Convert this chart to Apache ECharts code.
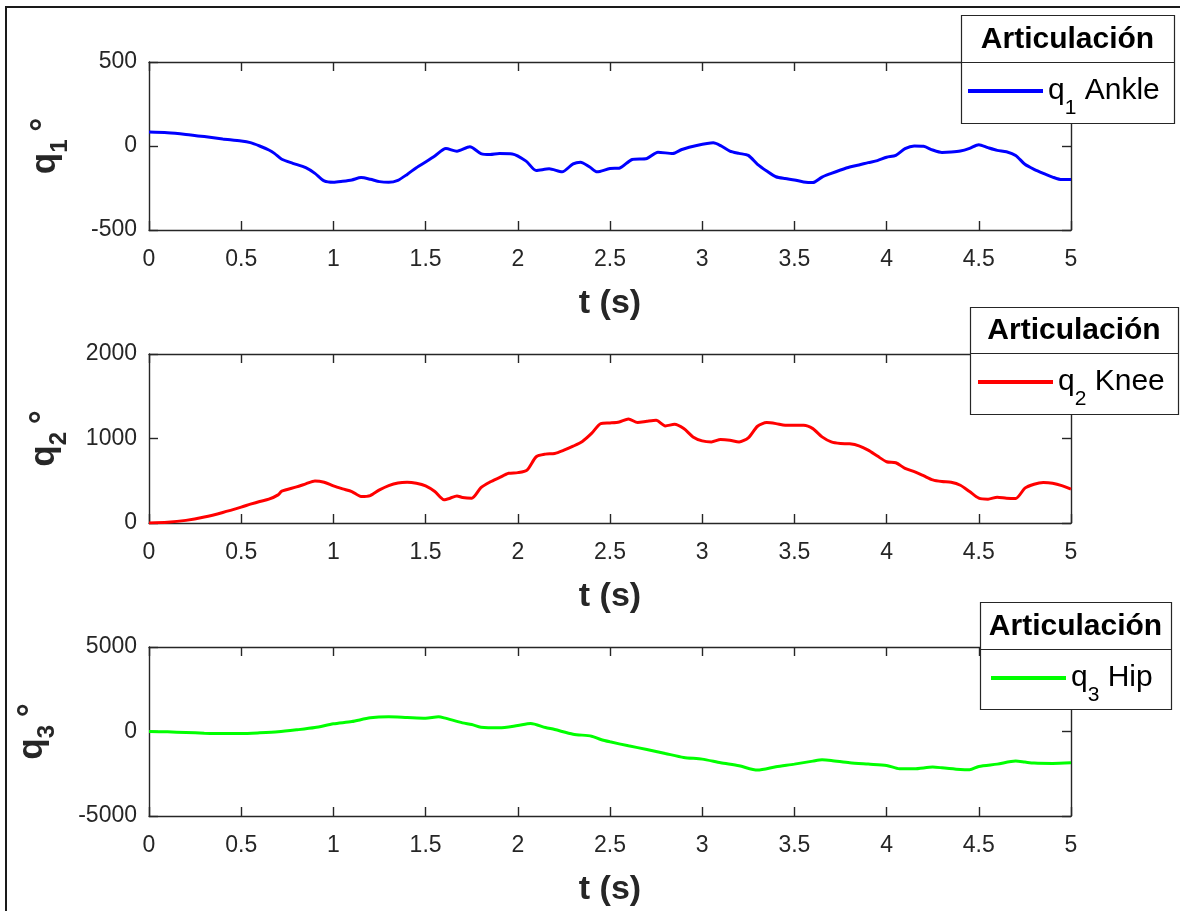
<!DOCTYPE html>
<html>
<head>
<meta charset="utf-8">
<script src="https://cdn.jsdelivr.net/npm/echarts@6/dist/echarts.min.js"></script>
<style>html,body{margin:0;padding:0;background:#fff}#c{width:1180px;height:911px}</style>
</head>
<body>
<div id="c"></div>
<script>
// ---------- data ----------
const t1 = [0,0.1,0.2,0.3,0.4,0.5,0.55,0.6,0.65,0.68,0.72,0.78,0.85,0.9,0.95,1.0,1.05,1.1,1.15,1.2,1.25,1.3,1.35,1.4,1.45,1.5,1.55,1.61,1.67,1.74,1.8,1.85,1.9,1.97,2.045,2.1,2.17,2.24,2.3,2.34,2.39,2.43,2.5,2.55,2.62,2.7,2.76,2.84,2.89,2.97,3.06,3.1,3.15,3.2,3.25,3.3,3.35,3.4,3.45,3.5,3.55,3.6,3.65,3.7,3.75,3.8,3.85,3.9,3.95,4.0,4.05,4.1,4.15,4.2,4.25,4.3,4.35,4.4,4.45,4.5,4.55,4.6,4.65,4.7,4.75,4.8,4.85,4.9,4.95,5.0];
const q1 = [83,79,69,56,42,30,20,0,-24,-44,-79,-103,-129,-163,-208,-216,-210,-202,-188,-198,-212,-216,-204,-169,-129,-95,-60,-15,-31,-5,-45,-51,-45,-47,-90,-146,-136,-154,-106,-96,-125,-154,-134,-132,-80,-74,-37,-45,-21,3,19,2,-30,-44,-56,-109,-149,-183,-194,-202,-214,-218,-185,-163,-143,-125,-113,-99,-87,-67,-56,-16,0,-2,-24,-38,-36,-30,-14,8,-10,-26,-34,-56,-109,-139,-163,-185,-200,-200];

const t2 = [0,0.1,0.2,0.3,0.4,0.5,0.55,0.6,0.65,0.7,0.72,0.8,0.85,0.9,0.95,1.0,1.05,1.1,1.15,1.2,1.25,1.3,1.35,1.4,1.45,1.5,1.55,1.6,1.63,1.67,1.7,1.75,1.8,1.85,1.9,1.95,2.0,2.05,2.1,2.15,2.2,2.25,2.3,2.35,2.4,2.45,2.5,2.55,2.6,2.65,2.7,2.75,2.8,2.85,2.9,2.95,3.0,3.05,3.1,3.15,3.2,3.25,3.3,3.35,3.4,3.45,3.5,3.55,3.6,3.65,3.7,3.75,3.8,3.85,3.9,3.95,4.0,4.05,4.1,4.15,4.2,4.25,4.3,4.35,4.4,4.45,4.5,4.55,4.6,4.65,4.7,4.75,4.8,4.85,4.9,4.95,5.0];
const q2 = [0,8,31,71,125,188,223,255,282,333,376,427,463,498,482,439,404,372,314,325,392,443,474,482,470,439,372,274,290,321,302,294,419,486,537,588,596,627,784,815,823,862,909,965,1060,1176,1184,1196,1231,1188,1203,1215,1149,1168,1117,1019,972,960,988,980,960,1007,1145,1188,1176,1156,1156,1156,1117,1019,960,941,937,913,862,792,725,713,647,608,560,510,490,482,447,372,294,282,306,294,290,412,459,478,470,443,400];

const t3 = [0,0.1,0.2,0.3,0.4,0.5,0.6,0.7,0.8,0.9,1.0,1.1,1.2,1.3,1.4,1.5,1.57,1.6,1.7,1.75,1.8,1.9,2.0,2.07,2.15,2.2,2.3,2.4,2.45,2.5,2.6,2.7,2.8,2.9,3.0,3.1,3.2,3.3,3.4,3.5,3.6,3.65,3.7,3.8,3.9,4.0,4.07,4.15,4.25,4.3,4.4,4.45,4.5,4.6,4.7,4.75,4.8,4.9,5.0];
const q3 = [0,-20,-59,-98,-118,-118,-79,-20,98,236,453,591,807,866,827,788,866,807,512,413,256,217,354,472,236,118,-158,-276,-473,-610,-847,-1063,-1300,-1536,-1634,-1851,-2028,-2284,-2087,-1930,-1752,-1674,-1713,-1851,-1930,-2008,-2205,-2205,-2107,-2146,-2245,-2264,-2067,-1930,-1752,-1811,-1870,-1890,-1851];

const xMin = 0, xMax = 5, xStep = 0.5;
const yMin  = [-500, 0, -5000];
const yMax  = [500, 2000, 5000];
const yStep = [500, 1000, 5000];
const subs   = ['1', '2', '3'];
const joints = ['Ankle', 'Knee', 'Hip'];
const legendTitle = 'Articulación';
const xName = 't (s)';

// ---------- styling / layout ----------
const FONT = '"Liberation Sans", Arial, Helvetica, sans-serif';
const INK = '#262626';
const colors = ['#0000ff', '#ff0000', '#00ff00'];
const gridTops = [62, 354, 647];
const gridH = [168, 169, 169];
const yNameGap = [77, 78, 90];
const boxes = [
  {x: 961, y: 15,  w: 213, h: 108, sep: 62},
  {x: 970, y: 307, w: 208, h: 107, sep: 353},
  {x: 980, y: 602, w: 191, h: 107, sep: 649}
];
const legIconX = [968, 978, 991];
const legIconY = [92, 383, 679];

const TICK_FS = 23;
const LEG_FS = 30, LEG_SUB_FS = 21, LEG_SUB_PAD = 34;
const AX_FS = 35, AX_SUB_FS = 24, AX_SUB_PAD = 30;

const ts = [t1, t2, t3];
const qs = [q1, q2, q3];
const names = subs.map((s, i) => 'q' + s + ' ' + joints[i]);

const grid = [], xAxis = [], yAxis = [], series = [], legend = [], graphic = [];
const plain = v => String(v);

for (let i = 0; i < 3; i++) {
  grid.push({left: 149, width: 922, top: gridTops[i], height: gridH[i], containLabel: false});
  const lineSt = {color: INK, width: 1.4};
  xAxis.push({
    type: 'value', gridIndex: i, position: 'bottom', min: xMin, max: xMax, interval: xStep,
    axisLine: {show: true, onZero: false, lineStyle: lineSt},
    axisTick: {show: true, inside: true, length: 9, lineStyle: lineSt},
    axisLabel: {color: INK, fontSize: TICK_FS, fontFamily: FONT, margin: 18, formatter: plain},
    splitLine: {show: false},
    name: xName, nameLocation: 'middle', nameGap: 57,
    nameTextStyle: {color: INK, fontSize: 34, fontWeight: 'bold', fontFamily: FONT}
  });
  xAxis.push({
    type: 'value', gridIndex: i, position: 'top', min: xMin, max: xMax, interval: xStep,
    axisLine: {show: true, onZero: false, lineStyle: lineSt},
    axisTick: {show: true, inside: true, length: 9, lineStyle: lineSt},
    axisLabel: {show: false}, splitLine: {show: false}
  });
  yAxis.push({
    type: 'value', gridIndex: i, position: 'left', min: yMin[i], max: yMax[i], interval: yStep[i],
    axisLine: {show: true, onZero: false, lineStyle: lineSt},
    axisTick: {show: true, inside: true, length: 9, lineStyle: lineSt},
    axisLabel: {color: INK, fontSize: TICK_FS, fontFamily: FONT, margin: 12, formatter: plain},
    splitLine: {show: false},
    name: '{q|q}{sub|' + subs[i] + '}{sp| }{q|°}',
    nameLocation: 'middle', nameRotate: 90, nameGap: yNameGap[i],
    nameTextStyle: {
      color: INK, fontFamily: FONT, fontWeight: 'bold', fontSize: AX_FS,
      rich: {
        q:   {fontSize: AX_FS, fontWeight: 'bold', fontFamily: FONT, color: INK},
        sub: {fontSize: AX_SUB_FS, fontWeight: 'bold', fontFamily: FONT, color: INK, padding: [AX_SUB_PAD, 0, 0, 0]},
        sp:  {fontSize: 28, fontWeight: 'bold', fontFamily: FONT, color: INK}
      }
    }
  });
  yAxis.push({
    type: 'value', gridIndex: i, position: 'right', min: yMin[i], max: yMax[i], interval: yStep[i],
    axisLine: {show: true, onZero: false, lineStyle: lineSt},
    axisTick: {show: true, inside: true, length: 9, lineStyle: lineSt},
    axisLabel: {show: false}, splitLine: {show: false}
  });
  series.push({
    name: names[i], type: 'line', xAxisIndex: 2 * i, yAxisIndex: 2 * i,
    data: ts[i].map((t, k) => [t, qs[i][k]]),
    showSymbol: false, symbol: 'none', smooth: 0.25,
    lineStyle: {color: colors[i], width: 3}, itemStyle: {color: colors[i]},
    animation: false, z: 3
  });
  const b = boxes[i];
  graphic.push({
    type: 'rect', z: 50, shape: {x: b.x + 0.5, y: b.y + 0.5, width: b.w, height: b.h},
    style: {fill: '#fff', stroke: INK, lineWidth: 1.2}
  });
  graphic.push({
    type: 'line', z: 51, shape: {x1: b.x, y1: b.sep + 0.5, x2: b.x + b.w, y2: b.sep + 0.5},
    style: {stroke: INK, lineWidth: 1.2}
  });
  graphic.push({
    type: 'text', z: 52, x: b.x + b.w / 2, y: (b.y + b.sep) / 2 + 1,
    style: {text: legendTitle, align: 'center', verticalAlign: 'middle',
            font: 'bold 30px ' + FONT, fill: '#000'}
  });
  legend.push({
    data: [names[i]], z: 60, padding: 0, left: legIconX[i],
    top: legIconY[i] - 16,
    icon: 'rect', itemWidth: 75, itemHeight: 4, itemGap: 0,
    selectedMode: false,
    formatter: () => '{q|q}{sub|' + subs[i] + '}{q| ' + joints[i] + '}',
    textStyle: {
      color: '#000', fontFamily: FONT, fontSize: LEG_FS,
      rich: {
        q:   {fontSize: LEG_FS, fontFamily: FONT, color: '#000'},
        sub: {fontSize: LEG_SUB_FS, fontFamily: FONT, color: '#000', padding: [LEG_SUB_PAD, 0, 0, 0]}
      }
    }
  });
}

// outer figure frame
graphic.push({
  type: 'polyline', z: 70,
  shape: {points: [[6, 911], [6, 7], [1180, 7]]},
  style: {stroke: '#1a1a1a', lineWidth: 2, fill: null}
});

const chart = echarts.init(document.getElementById('c'), null, {renderer: 'canvas'});
chart.setOption({
  animation: false,
  backgroundColor: '#fff',
  grid, xAxis, yAxis, series, legend, graphic
});
</script>
</body>
</html>
